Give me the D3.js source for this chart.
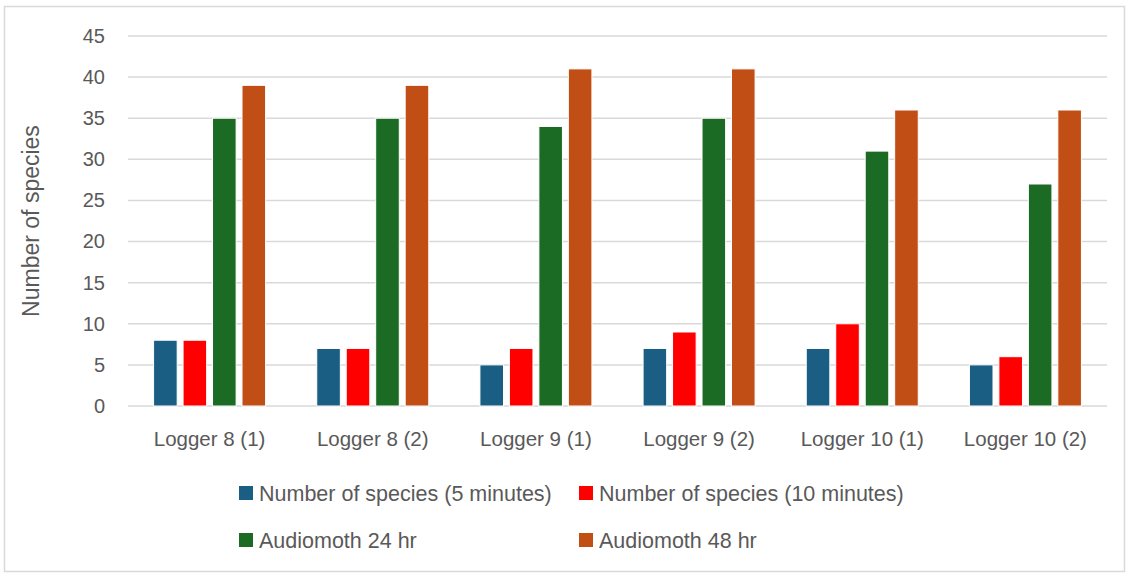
<!DOCTYPE html>
<html>
<head>
<meta charset="utf-8">
<script src="https://cdn.jsdelivr.net/npm/d3@7"></script>
<style>
  body { margin: 0; background: #fff; }
  svg text { font-family: "Liberation Sans", Arial, sans-serif; fill: #595959; }
</style>
</head>
<body>
<svg id="chart" width="1129" height="574"></svg>
<script>
const categories = ['Logger 8 (1)', 'Logger 8 (2)', 'Logger 9 (1)', 'Logger 9 (2)', 'Logger 10 (1)', 'Logger 10 (2)'];
const seriesNames = ['Number of species (5 minutes)', 'Number of species (10 minutes)', 'Audiomoth 24 hr', 'Audiomoth 48 hr'];
const species5min = [8, 7, 5, 7, 7, 5];
const species10min = [8, 7, 7, 9, 10, 6];
const audiomoth24 = [35, 35, 34, 35, 31, 27];
const audiomoth48 = [39, 39, 41, 41, 36, 36];
const yTicks = [0, 5, 10, 15, 20, 25, 30, 35, 40, 45];
const colors = ['#1a5e83', '#ff0000', '#1b6b24', '#c04e15'];

const series = [species5min, species10min, audiomoth24, audiomoth48];
const rows = categories.map((c, i) => ({ cat: c, vals: series.map(s => s[i]) }));

const svg = d3.select('#chart');
const plot = { left: 128, right: 1107, top: 36, bottom: 406 };

// outer frame
svg.append('rect').attr('x', 4.5).attr('y', 6.5).attr('width', 1120).attr('height', 565)
  .attr('fill', 'none').attr('stroke', '#d9d9d9').attr('stroke-width', 1.5);

const y = d3.scaleLinear().domain([0, 45]).range([plot.bottom, plot.top]);
const p = 1 - 112 / ((plot.right - plot.left) / categories.length);
const x0 = d3.scaleBand().domain(categories).range([plot.left, plot.right]).paddingInner(p).paddingOuter(p / 2);
const x1 = d3.scaleBand().domain(d3.range(seriesNames.length)).range([0, x0.bandwidth()]).paddingInner(0.2);

// grid
svg.append('g').selectAll('line').data(yTicks).enter().append('line')
  .attr('x1', plot.left).attr('x2', plot.right)
  .attr('y1', d => y(d)).attr('y2', d => y(d))
  .attr('stroke', '#d9d9d9').attr('stroke-width', 1.5);

// y axis labels
const yAxis = svg.append('g').attr('transform', `translate(${plot.left},0)`)
  .call(d3.axisLeft(y).tickValues(yTicks).tickSize(0).tickPadding(23));
yAxis.select('.domain').remove();
yAxis.selectAll('text').style('font-size', '20px').attr('fill', '#595959')
  .style('font-family', '"Liberation Sans", Arial, sans-serif');

// bars
const groups = svg.append('g').selectAll('g').data(rows).enter().append('g')
  .attr('transform', d => `translate(${x0(d.cat)},0)`);
groups.selectAll('rect').data(d => d.vals.map((v, k) => ({ v, k }))).enter().append('rect')
  .attr('x', d => x1(d.k)).attr('width', x1.bandwidth())
  .attr('y', d => y(d.v)).attr('height', d => y(0) - y(d.v))
  .attr('fill', d => colors[d.k]).attr('stroke', '#fff').attr('stroke-width', 1);

// x axis labels
const xAxis = svg.append('g').attr('transform', `translate(0,${plot.bottom})`)
  .call(d3.axisBottom(x0).tickSize(0).tickPadding(25));
xAxis.select('.domain').remove();
xAxis.selectAll('text').style('font-size', '20.5px').attr('fill', '#595959')
  .style('font-family', '"Liberation Sans", Arial, sans-serif');

// y title
svg.append('text').attr('transform', `translate(39,${(plot.top + plot.bottom) / 2}) rotate(-90)`)
  .attr('text-anchor', 'middle').style('font-size', '23px').text('Number of species');

// legend
const legendPos = [[239, 493], [579, 493], [239, 540], [579, 540]];
const leg = svg.append('g').selectAll('g').data(seriesNames).enter().append('g')
  .attr('transform', (d, i) => `translate(${legendPos[i][0]},${legendPos[i][1]})`);
leg.append('rect').attr('x', 0).attr('y', -7).attr('width', 14).attr('height', 14)
  .attr('fill', (d, i) => colors[i]);
leg.append('text').attr('x', 20).attr('y', 0).attr('dy', '0.35em')
  .style('font-size', '21.5px').text(d => d);
</script>
</body>
</html>
